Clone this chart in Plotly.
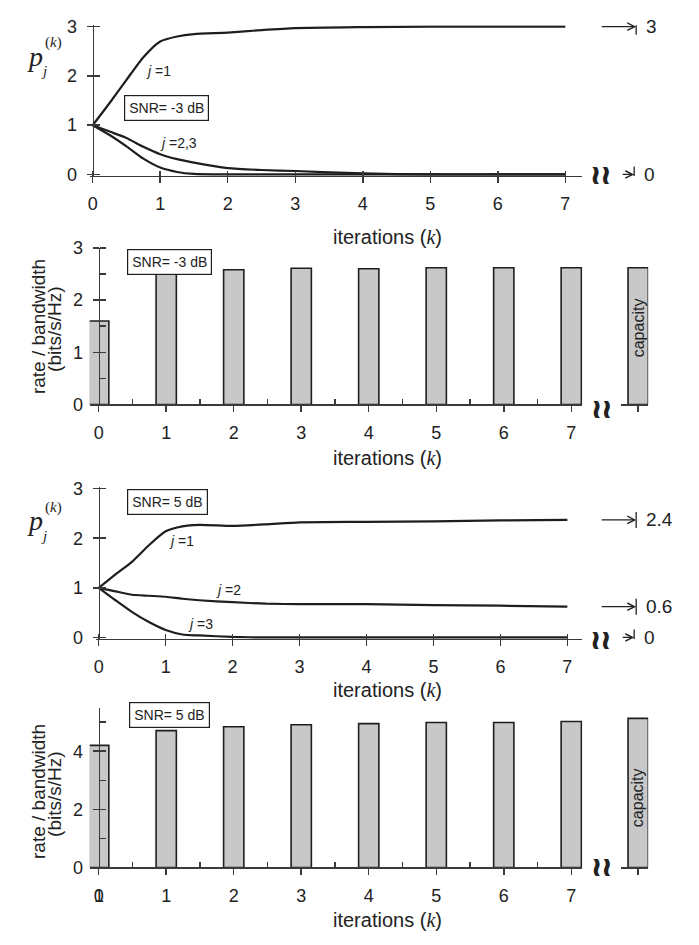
import plotly.graph_objects as go

W, H = 699, 945

# ---------------- data ----------------
k_line = [0, 0.25, 0.5, 0.75, 1, 1.25, 1.5, 2, 2.5, 3, 4, 5, 6, 7]
p_m3_j1 = [1.00, 1.45, 1.92, 2.38, 2.70, 2.80, 2.85, 2.88, 2.93, 2.97, 2.99, 3.00, 3.00, 3.00]
p_m3_j2 = [1.00, 0.87, 0.74, 0.56, 0.41, 0.31, 0.24, 0.13, 0.09, 0.07, 0.02, 0.00, 0.00, 0.00]
p_m3_j3 = [1.00, 0.80, 0.57, 0.32, 0.14, 0.05, 0.01, 0.00, 0.00, 0.00, 0.00, 0.00, 0.00, 0.00]
p_5_j1 = [1.00, 1.27, 1.53, 1.86, 2.14, 2.24, 2.27, 2.25, 2.28, 2.32, 2.33, 2.34, 2.36, 2.37]
p_5_j2 = [1.00, 0.93, 0.86, 0.84, 0.82, 0.78, 0.75, 0.71, 0.68, 0.67, 0.67, 0.65, 0.64, 0.62]
p_5_j3 = [1.00, 0.75, 0.51, 0.31, 0.15, 0.06, 0.04, 0.01, 0.00, 0.00, 0.00, 0.00, 0.00, 0.00]

k_bar = [0, 1, 2, 3, 4, 5, 6, 7]
rate_m3 = [1.60, 2.51, 2.58, 2.61, 2.60, 2.62, 2.62, 2.62]
rate_5 = [4.20, 4.71, 4.84, 4.91, 4.95, 4.99, 4.99, 5.02]
cap_k = [8]
cap_m3 = [2.62]
cap_5 = [5.13]

x_ticks = [0, 1, 2, 3, 4, 5, 6, 7]
y_ticks_p = [0, 1, 2, 3]
y_ticks_r_m3 = [0, 1, 2, 3]
y_ticks_r_5 = [0, 2, 4]

limit_labels_m3 = ["3", "0"]
limit_values_m3 = [3.0, 0.0]
limit_labels_5 = ["2.4", "0.6", "0"]
limit_values_5 = [2.37, 0.62, 0.0]

snr_m3 = "SNR= -3 dB"
snr_5 = "SNR= 5 dB"

# ---------------- geometry (pixels) ----------------
PANELS = [
    dict(x0=91, unit=67.7, xl=88, xr=582, ytop=17, ybot=168, ymax=3, pad=0.03),
    dict(x0=97, unit=67.7, xl=88, xr=582, ytop=243, ybot=403, ymax=3, pad=0.0),
    dict(x0=97, unit=67.14, xl=94, xr=582, ytop=489, ybot=641, ymax=3, pad=0.03),
    dict(x0=97, unit=67.7, xl=88, xr=582, ytop=712.7, ybot=876, ymax=5.5, pad=0.0),
]

FONT = "Liberation Sans, Arial, sans-serif"
SERIF = "Liberation Serif, Times New Roman, serif"
INK = "#1e1e1e"
AXC = "#3a3a3a"
XSTAND = 5


def xp(px):
    return px / W


def yp(py):
    return 1 - py / H


def nm(prefix, i):
    return prefix if i == 1 else f"{prefix}{i}"


lay = {}
common = dict(showgrid=False, zeroline=False, showline=True, linecolor=AXC, linewidth=1.5,
              tickcolor=AXC, tickwidth=1.5, tickfont=dict(family=FONT, size=18, color="#222"),
              fixedrange=True)

for i, P in enumerate(PANELS, start=1):
    upx = (P["ybot"] - P["ytop"]) / P["ymax"]
    yb = P["ybot"] + P["pad"] * upx
    yt = P["ytop"] - P["pad"] * upx
    xr = [(P["xl"] - P["x0"]) / P["unit"], (P["xr"] - P["x0"]) / P["unit"]]
    P["xrange"] = xr
    P["yrange"] = [-P["pad"], P["ymax"] + P["pad"]]
    P["ydom"] = [yp(yb), yp(yt)]
    is_bar = i in (2, 4)
    xa = dict(common, domain=[xp(P["xl"]), xp(P["xr"])], range=xr, anchor=nm("y", i),
              tickmode="array", tickvals=x_ticks, ticks="outside", ticklen=6,
              ticklabelstandoff=XSTAND)
    if is_bar:
        xa["minor"] = dict(ticks="inside", ticklen=5, tick0=0.5, dtick=1, tickcolor=AXC, tickwidth=1.5)
    if is_bar:
        yt_vals = y_ticks_r_m3 if i == 2 else y_ticks_r_5
        minor_dt = 0.5 if i == 2 else 1
    else:
        yt_vals = y_ticks_p
        minor_dt = None
    ya = dict(common, domain=P["ydom"], range=P["yrange"], anchor="free", position=xp(P["x0"]),
              tickmode="array", tickvals=yt_vals, ticks="outside", ticklen=6, ticklabelstandoff=6)
    if minor_dt:
        ya["minor"] = dict(ticks="inside", ticklen=6, tick0=0, dtick=minor_dt, tickcolor=AXC, tickwidth=1.5)
    lay[nm("xaxis", i)] = xa
    lay[nm("yaxis", i)] = ya
    # twin y axis: inside ticks so that major ticks cross the axis
    lay[f"yaxis{4 + i}"] = dict(showgrid=False, zeroline=False, showline=False, overlaying=nm("y", i),
                                anchor="free", position=xp(P["x0"]), range=P["yrange"],
                                tickmode="array", tickvals=yt_vals, ticks="inside", ticklen=6,
                                tickcolor=AXC, tickwidth=1.5, showticklabels=False, fixedrange=True)

# twin x axes for line panels (crossing ticks)
for i, tid in ((1, 7), (3, 8)):
    P = PANELS[i - 1]
    lay[f"xaxis{tid}"] = dict(showgrid=False, zeroline=False, showline=False, overlaying=nm("x", i),
                              anchor=nm("y", i), range=P["xrange"], tickmode="array", tickvals=x_ticks,
                              ticks="inside", ticklen=5, tickcolor=AXC, tickwidth=1.5,
                              showticklabels=False, fixedrange=True)

# capacity axis segments
for i, cid in ((2, 5), (4, 6)):
    P = PANELS[i - 1]
    cl, cr, cc = 621, 648, 638
    lay[f"xaxis{cid}"] = dict(common, domain=[xp(cl), xp(cr)],
                              range=[cap_k[0] - (cc - cl) / P["unit"], cap_k[0] + (cr - cc) / P["unit"]],
                              anchor=nm("y", i), tickmode="array", tickvals=cap_k, ticktext=[""],
                              ticks="outside", ticklen=6)

# ---------------- traces ----------------
traces = []
line_style = dict(color=INK, width=2.2, shape="spline", smoothing=0.6)
for ys in (p_m3_j1, p_m3_j2, p_m3_j3):
    traces.append(go.Scatter(x=k_line, y=ys, mode="lines", line=line_style, xaxis="x", yaxis="y",
                             showlegend=False, hoverinfo="skip"))
for ys in (p_5_j1, p_5_j2, p_5_j3):
    traces.append(go.Scatter(x=k_line, y=ys, mode="lines", line=line_style, xaxis="x3", yaxis="y3",
                             showlegend=False, hoverinfo="skip"))

bar_style = dict(color="#c8c8c8", line=dict(color=INK, width=1.6))
traces += [
    go.Bar(x=k_bar, y=rate_m3, width=0.3, marker=bar_style, xaxis="x2", yaxis="y2", showlegend=False,
           hoverinfo="skip"),
    go.Bar(x=cap_k, y=cap_m3, width=0.3, marker=bar_style, xaxis="x5", yaxis="y2", showlegend=False,
           hoverinfo="skip"),
    go.Bar(x=k_bar, y=rate_5, width=0.3, marker=bar_style, xaxis="x4", yaxis="y4", showlegend=False,
           hoverinfo="skip"),
    go.Bar(x=cap_k, y=cap_5, width=0.3, marker=bar_style, xaxis="x6", yaxis="y4", showlegend=False,
           hoverinfo="skip"),
]
# empty traces so that twin axes are instantiated
for xa_, ya_ in (("x", "y5"), ("x2", "y6"), ("x3", "y7"), ("x4", "y8"), ("x7", "y"), ("x8", "y3")):
    traces.append(go.Scatter(x=[None], y=[None], xaxis=xa_, yaxis=ya_, showlegend=False,
                             hoverinfo="skip", mode="lines"))

fig = go.Figure(data=traces)

# ---------------- annotations ----------------
ann = []
shapes = []


def text(x, y, s, size=18, xref="paper", yref="paper", angle=0, family=FONT, xanchor="center", **kw):
    ann.append(dict(x=x, y=y, xref=xref, yref=yref, text=s, showarrow=False, textangle=angle,
                    font=dict(family=family, size=size, color="#222"), xanchor=xanchor, yanchor="middle", **kw))


title = "iterations (<span style='font-family:Liberation Serif'><i>k</i></span>)"
for ty in (232, 458, 695, 930):
    text(xp(387), yp(ty), title, size=20)

# p_j^(k) labels
for (px, py) in ((33, 47), (33, 522)):
    text(xp(px), yp(py), "<i>p</i>", size=28, family=SERIF)
    text(xp(px + 9), yp(py + 15), "<i>j</i>", size=15, family=SERIF)
    text(xp(px + 19), yp(py - 14), "(<i>k</i>)", size=15, family=SERIF)

# rate / bandwidth labels
for cy in (323, 798):
    text(xp(36), yp(cy), "rate / bandwidth", size=19, angle=-90)
    text(xp(52), yp(cy + 3), "(bits/s/Hz)", size=19, angle=-90)

# SNR boxes
for (cx, cy, s) in ((165, 100, snr_m3), (168, 257, snr_m3), (166, 503, snr_5), (168, 720, snr_5)):
    ann.append(dict(x=xp(cx), y=yp(cy), xref="paper", yref="paper", text=s, showarrow=False,
                    xanchor="center", yanchor="middle",
                    font=dict(family=FONT, size=14, color="#222"), bordercolor=INK, borderwidth=1.2,
                    borderpad=4, bgcolor="white"))

# curve labels
jl = "<i>j</i> ="
text(xp(157), yp(62), jl + "1", size=14)
text(xp(177), yp(136), jl + "2,3", size=14)
text(xp(180), yp(542), jl + "1", size=14)
text(xp(227), yp(593), jl + "2", size=14)
text(xp(199), yp(627), jl + "3", size=14)

# capacity labels
text(xp(638), yp(325), "capacity", size=16, angle=-90)
text(xp(638), yp(805), "capacity", size=16, angle=-90)

# extra "1" drawn over the bottom panel's first tick label (as in the reference)
ann.append(dict(x=0, y=0, xref="x4", yref="y4", text="1", showarrow=False, xanchor="center",
                yanchor="middle", yshift=-29, font=dict(family=FONT, size=18, color="#222")))

# axis-break symbols (drawn twice, 1 px apart, for a heavier stroke)
for (bx, by) in ((600, 168), (601, 407), (600, 643), (601, 875)):
    for dx in (0, 1):
        text(xp(bx), yp(by), "<b>≀≀</b>", size=27, family="DejaVu Sans", xshift=dx)


# limit arrows
def limits(labels, values, yref):
    for lab, v in zip(labels, values):
        if v == 0:
            xs, xe = 621, 634
        else:
            xs, xe = 600, 636
        ann.append(dict(x=xp(xe), y=v, xref="paper", yref=yref, ax=-(xe - xs), ay=0, text="",
                        showarrow=True, arrowhead=5, arrowsize=1.2, arrowwidth=1.2, arrowcolor="#222",
                        standoff=0))
        shapes.append(dict(type="line", xref="paper", yref=yref, x0=xp(xe), x1=xp(xe),
                           ysizemode="pixel", yanchor=v, y0=-8, y1=8, line=dict(color="#222", width=1.3)))
        text(xp(xe + 8), v, lab, size=19, yref=yref, xanchor="left")


limits(limit_labels_m3, limit_values_m3, "y")
limits(limit_labels_5, limit_values_5, "y3")

fig.update_layout(**lay)
fig.update_layout(width=W, height=H, margin=dict(l=0, r=0, t=0, b=0), plot_bgcolor="white",
                  paper_bgcolor="white", annotations=ann, shapes=shapes, showlegend=False,
                  barmode="overlay", font=dict(family=FONT), hovermode=False)
fig.write_html("out.html", config={"displayModeBar": False, "staticPlot": True},
               post_script="document.body.style.margin='0';document.body.style.overflow='hidden';")
